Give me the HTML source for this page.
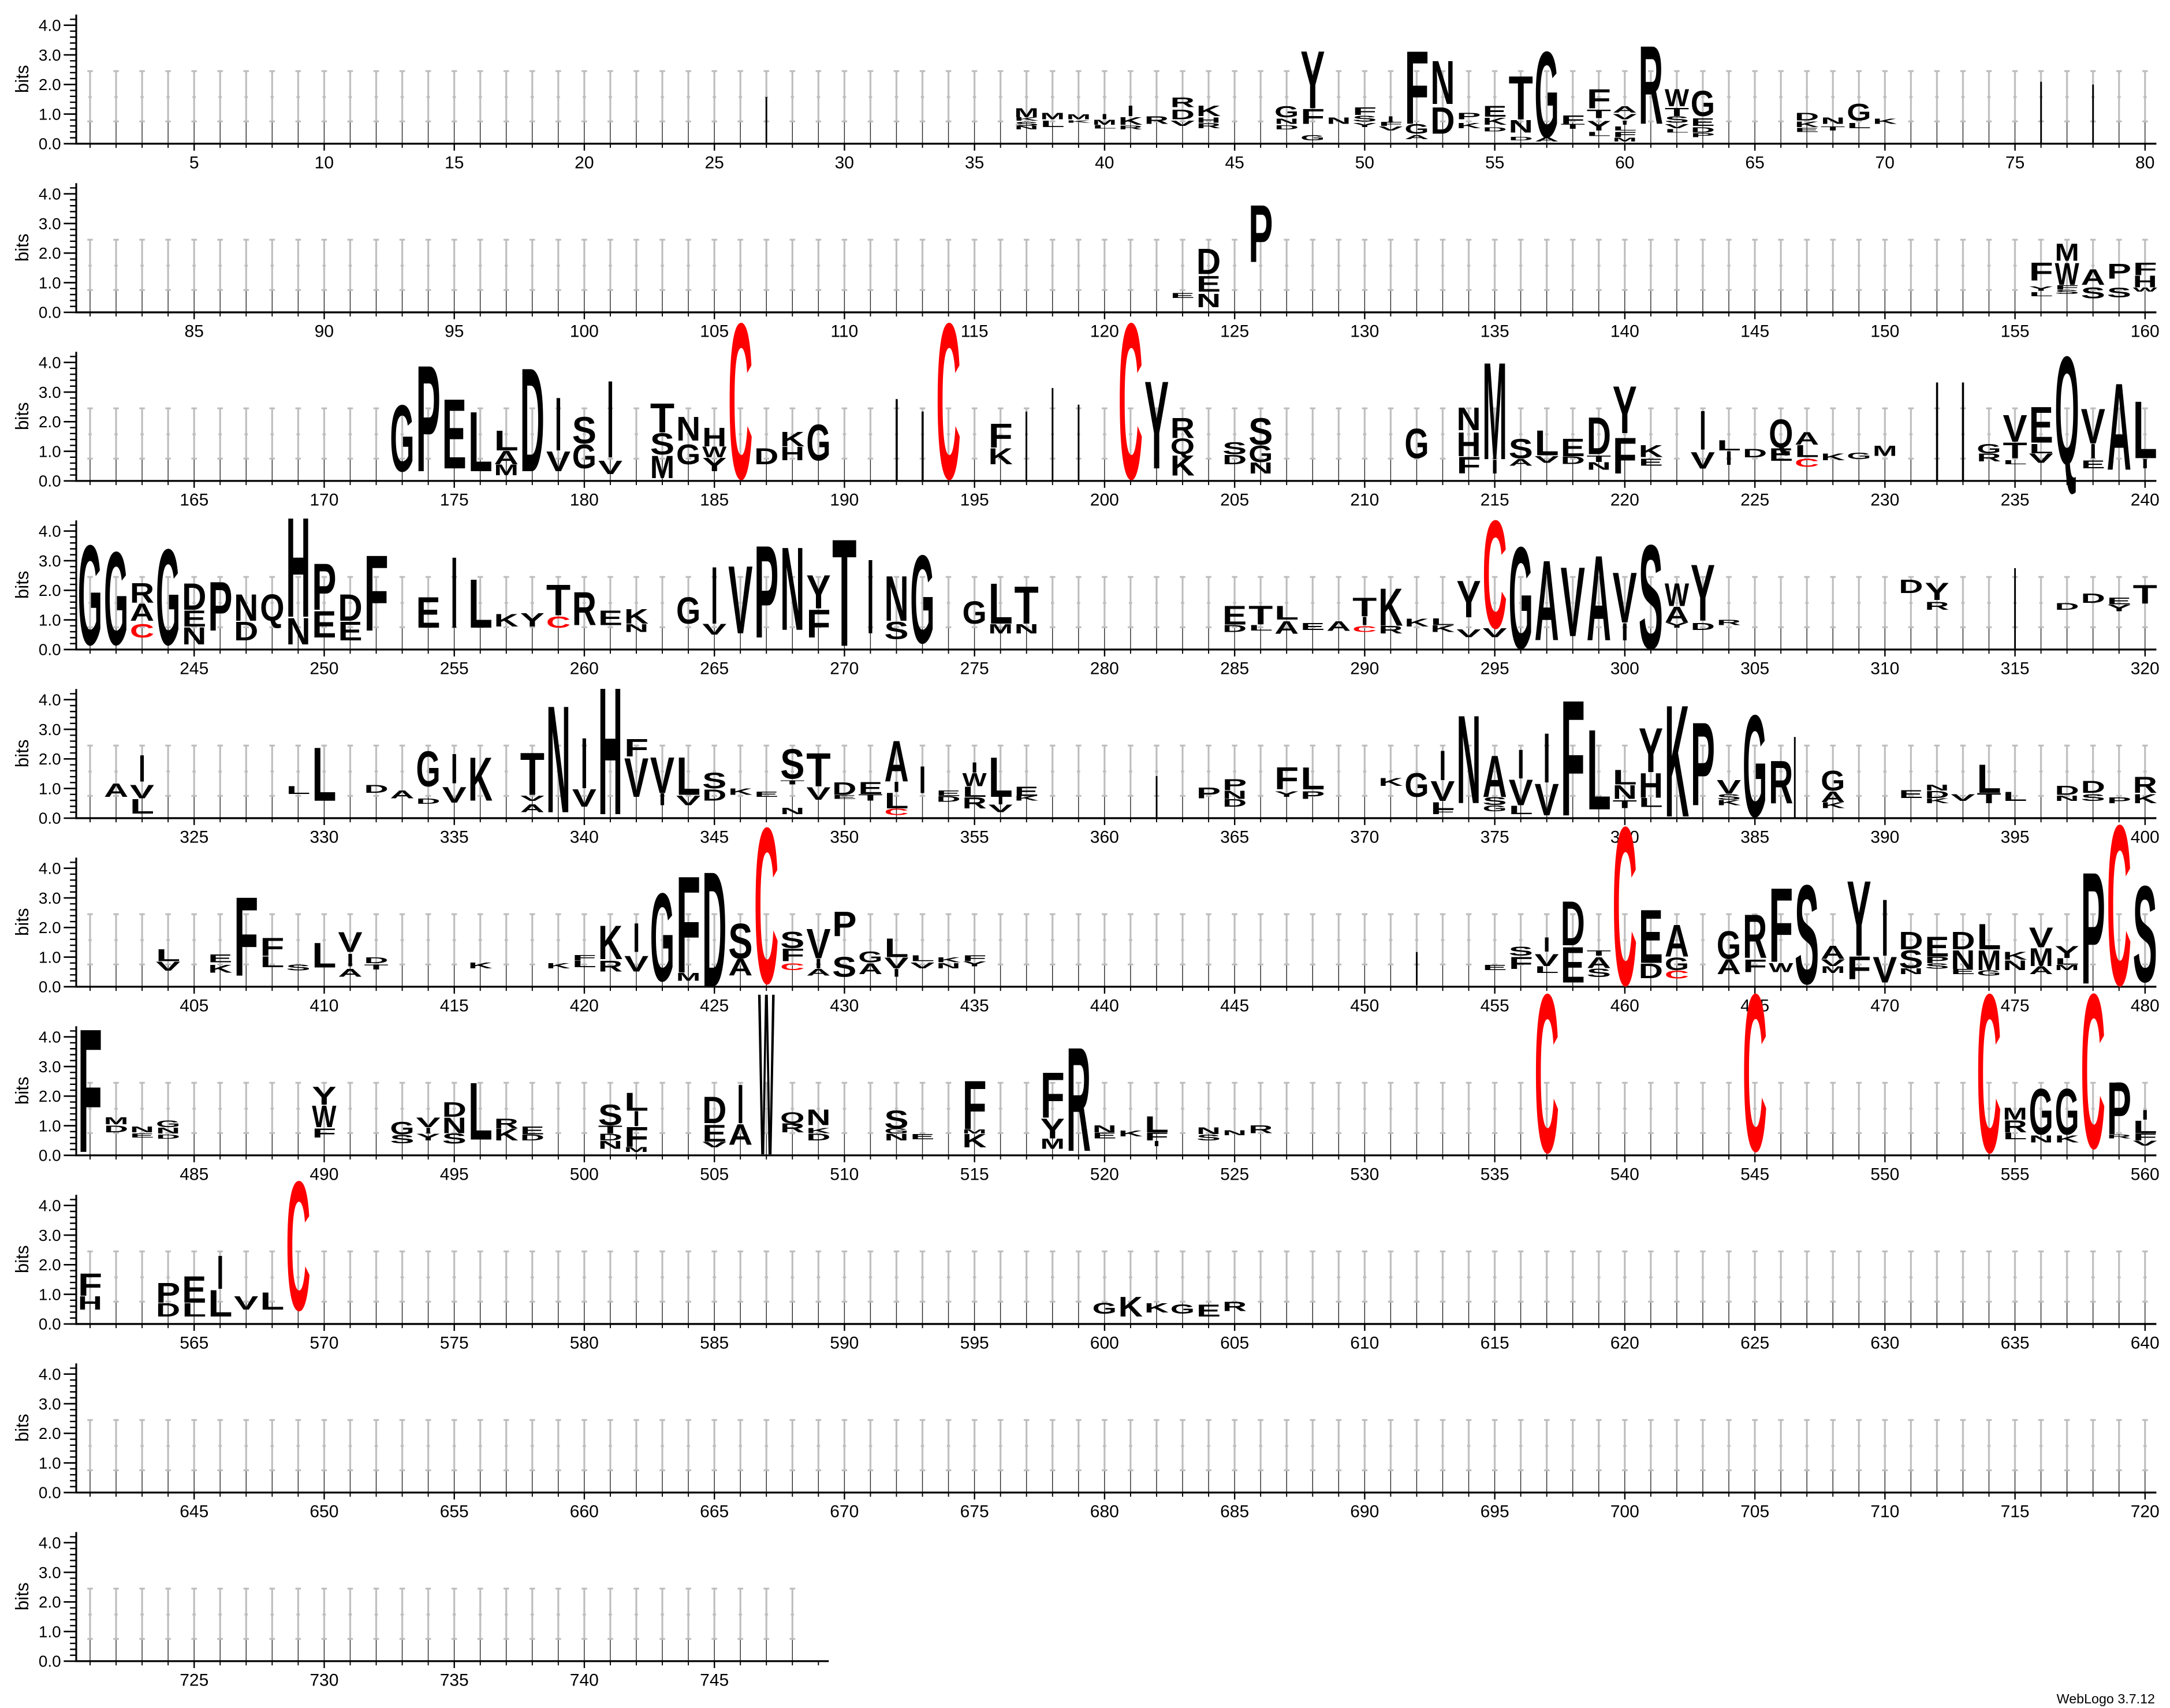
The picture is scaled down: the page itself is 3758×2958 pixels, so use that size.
<!DOCTYPE html>
<html><head><meta charset="utf-8"><style>
html,body{margin:0;padding:0;background:#fff}
svg{display:block}
svg text{font-family:"Liberation Sans",Arial,sans-serif}
.l{font-weight:bold;fill:#000}
.r{font-weight:bold;fill:#f00}
.n{font-weight:normal;fill:#000}
</style></head><body>
<svg xmlns="http://www.w3.org/2000/svg" width="3758" height="2958" viewBox="0 0 1565.83 1232.5" preserveAspectRatio="none">
<defs>
<pattern id="eb" patternUnits="userSpaceOnUse" x="55.6" y="-17.97" width="18.77" height="121.67">
<line x1="9.385" y1="121.67" x2="9.385" y2="105.6" stroke="#000" stroke-width="0.5"/>
<path d="M9.385 105.6V69.3M7.4 105.6H11.4M7.4 69.3H11.4M8.2 88H10.6" stroke="#bdbdbd" stroke-width="1.3" fill="none"/>
</pattern>
<g id="ax">
<line x1="55" y1="10.5" x2="55" y2="104.4" stroke="#000" stroke-width="1.3"/>
<path d="M46 103.7H55M46 82.33H55M46 60.96H55M46 39.59H55M46 18.22H55" stroke="#000" stroke-width="1.1"/>
<line x1="52.75" y1="104.2" x2="52.75" y2="13" stroke="#000" stroke-width="4.5" stroke-dasharray="1 3.274"/>
<text class="n" x="44" y="107.8" font-size="11.6" text-anchor="end">0.0</text>
<text class="n" x="44" y="86.4" font-size="11.6" text-anchor="end">1.0</text>
<text class="n" x="44" y="65.1" font-size="11.6" text-anchor="end">2.0</text>
<text class="n" x="44" y="43.7" font-size="11.6" text-anchor="end">3.0</text>
<text class="n" x="44" y="22.3" font-size="11.6" text-anchor="end">4.0</text>
<text class="n" transform="translate(20.5,57) rotate(-90)" font-size="13" text-anchor="middle">bits</text>
</g>
<g id="xt">
<line x1="55" y1="103.7" x2="1556" y2="103.7" stroke="#000" stroke-width="1.4"/>
<line x1="64.6" y1="105.2" x2="1556" y2="105.2" stroke="#000" stroke-width="3" stroke-dasharray="0.8 17.97"/>
<line x1="139.6" y1="106.2" x2="1556" y2="106.2" stroke="#000" stroke-width="5" stroke-dasharray="1 92.85"/>
</g>
</defs>

<rect x="55.6" y="3.7" width="1501.6" height="100" fill="url(#eb)"/>
<rect x="55.6" y="125.37" width="1501.6" height="100" fill="url(#eb)"/>
<rect x="55.6" y="247.03" width="1501.6" height="100" fill="url(#eb)"/>
<rect x="55.6" y="368.7" width="1501.6" height="100" fill="url(#eb)"/>
<rect x="55.6" y="490.37" width="1501.6" height="100" fill="url(#eb)"/>
<rect x="55.6" y="612.03" width="1501.6" height="100" fill="url(#eb)"/>
<rect x="55.6" y="733.7" width="1501.6" height="100" fill="url(#eb)"/>
<rect x="55.6" y="855.37" width="1501.6" height="100" fill="url(#eb)"/>
<rect x="55.6" y="977.03" width="1501.6" height="100" fill="url(#eb)"/>
<rect x="55.6" y="1098.7" width="525.6" height="100" fill="url(#eb)"/>

<use href="#ax"/><use href="#xt"/>
<use href="#ax" y="121.67"/><use href="#xt" y="121.67"/>
<use href="#ax" y="243.33"/><use href="#xt" y="243.33"/>
<use href="#ax" y="365"/><use href="#xt" y="365"/>
<use href="#ax" y="486.67"/><use href="#xt" y="486.67"/>
<use href="#ax" y="608.33"/><use href="#xt" y="608.33"/>
<use href="#ax" y="730"/><use href="#xt" y="730"/>
<use href="#ax" y="851.67"/><use href="#xt" y="851.67"/>
<use href="#ax" y="973.33"/><use href="#xt" y="973.33"/>
<use href="#ax" y="1095"/>
<line x1="55" y1="1198.7" x2="598" y2="1198.7" stroke="#000" stroke-width="1.4"/>
<line x1="64.6" y1="1200.2" x2="592" y2="1200.2" stroke="#000" stroke-width="3" stroke-dasharray="0.8 17.97"/>
<line x1="139.6" y1="1201.2" x2="592" y2="1201.2" stroke="#000" stroke-width="5" stroke-dasharray="1 92.85"/>

<g class="n" font-size="12.5" text-anchor="middle" style="font-weight:normal">
<g transform="translate(0,121.5)"><text x="140.1">5</text><text x="233.9">10</text><text x="327.8">15</text><text x="421.6">20</text><text x="515.5">25</text><text x="609.3">30</text><text x="703.2">35</text><text x="797">40</text><text x="890.9">45</text><text x="984.7">50</text><text x="1078.6">55</text><text x="1172.4">60</text><text x="1266.3">65</text><text x="1360.1">70</text><text x="1454">75</text><text x="1547.8">80</text></g>
<g transform="translate(0,243.17)"><text x="140.1">85</text><text x="233.9">90</text><text x="327.8">95</text><text x="421.6">100</text><text x="515.5">105</text><text x="609.3">110</text><text x="703.2">115</text><text x="797">120</text><text x="890.9">125</text><text x="984.7">130</text><text x="1078.6">135</text><text x="1172.4">140</text><text x="1266.3">145</text><text x="1360.1">150</text><text x="1454">155</text><text x="1547.8">160</text></g>
<g transform="translate(0,364.83)"><text x="140.1">165</text><text x="233.9">170</text><text x="327.8">175</text><text x="421.6">180</text><text x="515.5">185</text><text x="609.3">190</text><text x="703.2">195</text><text x="797">200</text><text x="890.9">205</text><text x="984.7">210</text><text x="1078.6">215</text><text x="1172.4">220</text><text x="1266.3">225</text><text x="1360.1">230</text><text x="1454">235</text><text x="1547.8">240</text></g>
<g transform="translate(0,486.5)"><text x="140.1">245</text><text x="233.9">250</text><text x="327.8">255</text><text x="421.6">260</text><text x="515.5">265</text><text x="609.3">270</text><text x="703.2">275</text><text x="797">280</text><text x="890.9">285</text><text x="984.7">290</text><text x="1078.6">295</text><text x="1172.4">300</text><text x="1266.3">305</text><text x="1360.1">310</text><text x="1454">315</text><text x="1547.8">320</text></g>
<g transform="translate(0,608.17)"><text x="140.1">325</text><text x="233.9">330</text><text x="327.8">335</text><text x="421.6">340</text><text x="515.5">345</text><text x="609.3">350</text><text x="703.2">355</text><text x="797">360</text><text x="890.9">365</text><text x="984.7">370</text><text x="1078.6">375</text><text x="1172.4">380</text><text x="1266.3">385</text><text x="1360.1">390</text><text x="1454">395</text><text x="1547.8">400</text></g>
<g transform="translate(0,729.83)"><text x="140.1">405</text><text x="233.9">410</text><text x="327.8">415</text><text x="421.6">420</text><text x="515.5">425</text><text x="609.3">430</text><text x="703.2">435</text><text x="797">440</text><text x="890.9">445</text><text x="984.7">450</text><text x="1078.6">455</text><text x="1172.4">460</text><text x="1266.3">465</text><text x="1360.1">470</text><text x="1454">475</text><text x="1547.8">480</text></g>
<g transform="translate(0,851.5)"><text x="140.1">485</text><text x="233.9">490</text><text x="327.8">495</text><text x="421.6">500</text><text x="515.5">505</text><text x="609.3">510</text><text x="703.2">515</text><text x="797">520</text><text x="890.9">525</text><text x="984.7">530</text><text x="1078.6">535</text><text x="1172.4">540</text><text x="1266.3">545</text><text x="1360.1">550</text><text x="1454">555</text><text x="1547.8">560</text></g>
<g transform="translate(0,973.17)"><text x="140.1">565</text><text x="233.9">570</text><text x="327.8">575</text><text x="421.6">580</text><text x="515.5">585</text><text x="609.3">590</text><text x="703.2">595</text><text x="797">600</text><text x="890.9">605</text><text x="984.7">610</text><text x="1078.6">615</text><text x="1172.4">620</text><text x="1266.3">625</text><text x="1360.1">630</text><text x="1454">635</text><text x="1547.8">640</text></g>
<g transform="translate(0,1094.83)"><text x="140.1">645</text><text x="233.9">650</text><text x="327.8">655</text><text x="421.6">660</text><text x="515.5">665</text><text x="609.3">670</text><text x="703.2">675</text><text x="797">680</text><text x="890.9">685</text><text x="984.7">690</text><text x="1078.6">695</text><text x="1172.4">700</text><text x="1266.3">705</text><text x="1360.1">710</text><text x="1454">715</text><text x="1547.8">720</text></g>
<g transform="translate(0,1216.5)"><text x="140.1">725</text><text x="233.9">730</text><text x="327.8">735</text><text x="421.6">740</text><text x="515.5">745</text></g>
</g>

<g fill="#000">
<rect x="552.4" y="70" width="1.2" height="34"/>
<rect x="1472.2" y="59" width="1.2" height="45"/>
<rect x="1509.7" y="61" width="1.2" height="43"/>
<rect x="646.3" y="288" width="1.5" height="59"/>
<rect x="665" y="297" width="1.5" height="50"/>
<rect x="740" y="297" width="1.2" height="50"/>
<rect x="758.9" y="280" width="1.2" height="67"/>
<rect x="777.7" y="292" width="1.2" height="55"/>
<rect x="1397" y="276" width="1.5" height="71"/>
<rect x="1415.7" y="276" width="1.5" height="71"/>
<rect x="1453.4" y="410" width="1.2" height="58"/>
<rect x="834" y="560" width="1.2" height="30"/>
<rect x="1294.5" y="531.8" width="1.2" height="58"/>
<rect x="1021.7" y="687" width="1.2" height="24"/>
</g>

<!-- ROW 1 -->
<text class="l" x="731.9" y="84.5" font-size="9.2" textLength="17.6" lengthAdjust="spacingAndGlyphs">M</text>
<text class="l" x="731.9" y="87" font-size="3.4" textLength="17.6" lengthAdjust="spacingAndGlyphs">K</text>
<text class="l" x="731.9" y="90.9" font-size="4.4" textLength="17.6" lengthAdjust="spacingAndGlyphs">S</text>
<text class="l" x="731.9" y="93.3" font-size="3.3" textLength="17.6" lengthAdjust="spacingAndGlyphs">N</text>
<text class="l" x="750.7" y="86.1" font-size="6.6" textLength="17.6" lengthAdjust="spacingAndGlyphs">M</text>
<text class="l" x="750.7" y="91.7" font-size="6.6" textLength="17.6" lengthAdjust="spacingAndGlyphs">L</text>
<text class="l" x="769.5" y="86.1" font-size="4.8" textLength="17.6" lengthAdjust="spacingAndGlyphs">M</text>
<text class="l" x="769.5" y="88.5" font-size="2.2" textLength="17.6" lengthAdjust="spacingAndGlyphs">K</text>
<text class="l" x="794.5" y="86.1" font-size="5.5" textLength="5" lengthAdjust="spacingAndGlyphs">I</text>
<text class="l" x="788.2" y="90.1" font-size="4.8" textLength="17.6" lengthAdjust="spacingAndGlyphs">M</text>
<text class="l" x="788.2" y="92.8" font-size="3.3" textLength="17.6" lengthAdjust="spacingAndGlyphs">L</text>
<text class="l" x="813.3" y="83.7" font-size="10.8" textLength="5" lengthAdjust="spacingAndGlyphs">I</text>
<text class="l" x="807" y="90.1" font-size="7.7" textLength="17.6" lengthAdjust="spacingAndGlyphs">K</text>
<text class="l" x="807" y="93.3" font-size="4" textLength="17.6" lengthAdjust="spacingAndGlyphs">R</text>
<text class="l" x="825.8" y="89.3" font-size="7.7" textLength="17.6" lengthAdjust="spacingAndGlyphs">R</text>
<text class="l" x="844.5" y="77.4" font-size="9.9" textLength="17.6" lengthAdjust="spacingAndGlyphs">R</text>
<text class="l" x="844.5" y="86.1" font-size="9.9" textLength="17.6" lengthAdjust="spacingAndGlyphs">D</text>
<text class="l" x="844.5" y="90.9" font-size="5.5" textLength="17.6" lengthAdjust="spacingAndGlyphs">V</text>
<text class="l" x="863.3" y="83.7" font-size="10.8" textLength="17.6" lengthAdjust="spacingAndGlyphs">K</text>
<text class="l" x="863.3" y="88.5" font-size="5.5" textLength="17.6" lengthAdjust="spacingAndGlyphs">H</text>
<text class="l" x="863.3" y="92.5" font-size="5.1" textLength="17.6" lengthAdjust="spacingAndGlyphs">R</text>
<text class="l" x="919.6" y="84.5" font-size="11.4" textLength="17.6" lengthAdjust="spacingAndGlyphs">G</text>
<text class="l" x="919.6" y="89.3" font-size="5.5" textLength="17.6" lengthAdjust="spacingAndGlyphs">N</text>
<text class="l" x="919.6" y="93.3" font-size="4.4" textLength="17.6" lengthAdjust="spacingAndGlyphs">D</text>
<text class="l" x="938.4" y="78.1" font-size="59.4" textLength="17.6" lengthAdjust="spacingAndGlyphs">Y</text>
<text class="l" x="938.4" y="89.3" font-size="15.4" textLength="17.6" lengthAdjust="spacingAndGlyphs">F</text>
<text class="l" x="938.4" y="101.3" font-size="5.5" textLength="17.6" lengthAdjust="spacingAndGlyphs">G</text>
<text class="l" x="957.2" y="89.3" font-size="6.6" textLength="17.6" lengthAdjust="spacingAndGlyphs">N</text>
<text class="l" x="975.9" y="82.9" font-size="7.5" textLength="17.6" lengthAdjust="spacingAndGlyphs">F</text>
<text class="l" x="975.9" y="87.7" font-size="6" textLength="17.6" lengthAdjust="spacingAndGlyphs">S</text>
<text class="l" x="975.9" y="91.7" font-size="4.4" textLength="17.6" lengthAdjust="spacingAndGlyphs">Y</text>
<text class="l" x="1001" y="88.5" font-size="6.6" textLength="5" lengthAdjust="spacingAndGlyphs">I</text>
<text class="l" x="994.7" y="90.9" font-size="4.4" textLength="17.6" lengthAdjust="spacingAndGlyphs">F</text>
<text class="l" x="994.7" y="94.1" font-size="4.4" textLength="17.6" lengthAdjust="spacingAndGlyphs">V</text>
<text class="l" x="1013.5" y="89.3" font-size="75.5" textLength="17.6" lengthAdjust="spacingAndGlyphs">F</text>
<text class="l" x="1013.5" y="96.5" font-size="9.9" textLength="17.6" lengthAdjust="spacingAndGlyphs">G</text>
<text class="l" x="1013.5" y="100.5" font-size="4.4" textLength="17.6" lengthAdjust="spacingAndGlyphs">A</text>
<text class="l" x="1032.2" y="75" font-size="44.9" textLength="17.6" lengthAdjust="spacingAndGlyphs">N</text>
<text class="l" x="1032.2" y="96.5" font-size="27.4" textLength="17.6" lengthAdjust="spacingAndGlyphs">D</text>
<text class="l" x="1051" y="86.1" font-size="6.6" textLength="17.6" lengthAdjust="spacingAndGlyphs">P</text>
<text class="l" x="1051" y="92.5" font-size="5.5" textLength="17.6" lengthAdjust="spacingAndGlyphs">K</text>
<text class="l" x="1069.8" y="84.2" font-size="11" textLength="17.6" lengthAdjust="spacingAndGlyphs">E</text>
<text class="l" x="1069.8" y="90.1" font-size="7.3" textLength="17.6" lengthAdjust="spacingAndGlyphs">K</text>
<text class="l" x="1069.8" y="94.9" font-size="4.4" textLength="17.6" lengthAdjust="spacingAndGlyphs">D</text>
<text class="l" x="1088.6" y="86.1" font-size="44.9" textLength="17.6" lengthAdjust="spacingAndGlyphs">T</text>
<text class="l" x="1088.6" y="95.7" font-size="13.2" textLength="17.6" lengthAdjust="spacingAndGlyphs">N</text>
<text class="l" x="1088.6" y="101.3" font-size="3.3" textLength="17.6" lengthAdjust="spacingAndGlyphs">D</text>
<text class="l" x="1107.3" y="98.9" font-size="88.6" textLength="17.6" lengthAdjust="spacingAndGlyphs">G</text>
<text class="l" x="1107.3" y="102.1" font-size="4.4" textLength="17.6" lengthAdjust="spacingAndGlyphs">A</text>
<text class="l" x="1126.1" y="89.3" font-size="8.8" textLength="17.6" lengthAdjust="spacingAndGlyphs">F</text>
<text class="l" x="1126.1" y="93" font-size="5.1" textLength="17.6" lengthAdjust="spacingAndGlyphs">T</text>
<text class="l" x="1144.9" y="78.1" font-size="19.6" textLength="17.6" lengthAdjust="spacingAndGlyphs">F</text>
<text class="l" x="1144.9" y="85.3" font-size="8.8" textLength="17.6" lengthAdjust="spacingAndGlyphs">T</text>
<text class="l" x="1144.9" y="94.1" font-size="9.9" textLength="17.6" lengthAdjust="spacingAndGlyphs">Y</text>
<text class="l" x="1144.9" y="98.1" font-size="4.4" textLength="17.6" lengthAdjust="spacingAndGlyphs">L</text>
<text class="l" x="1163.6" y="81.3" font-size="6.4" textLength="17.6" lengthAdjust="spacingAndGlyphs">A</text>
<text class="l" x="1163.6" y="86.1" font-size="5.5" textLength="17.6" lengthAdjust="spacingAndGlyphs">V</text>
<text class="l" x="1169.9" y="90.1" font-size="4.4" textLength="5" lengthAdjust="spacingAndGlyphs">I</text>
<text class="l" x="1163.6" y="94.1" font-size="4.4" textLength="17.6" lengthAdjust="spacingAndGlyphs">L</text>
<text class="l" x="1163.6" y="98.9" font-size="5.5" textLength="17.6" lengthAdjust="spacingAndGlyphs">F</text>
<text class="l" x="1163.6" y="102.1" font-size="4" textLength="17.6" lengthAdjust="spacingAndGlyphs">M</text>
<text class="l" x="1182.4" y="89.3" font-size="80.9" textLength="17.6" lengthAdjust="spacingAndGlyphs">R</text>
<text class="l" x="1201.2" y="76.6" font-size="17.6" textLength="17.6" lengthAdjust="spacingAndGlyphs">W</text>
<text class="l" x="1201.2" y="83.7" font-size="8.6" textLength="17.6" lengthAdjust="spacingAndGlyphs">T</text>
<text class="l" x="1201.2" y="88.5" font-size="6.6" textLength="17.6" lengthAdjust="spacingAndGlyphs">S</text>
<text class="l" x="1201.2" y="92.5" font-size="4.4" textLength="17.6" lengthAdjust="spacingAndGlyphs">V</text>
<text class="l" x="1201.2" y="95.7" font-size="3.3" textLength="17.6" lengthAdjust="spacingAndGlyphs">L</text>
<text class="l" x="1219.9" y="83.7" font-size="26.2" textLength="17.6" lengthAdjust="spacingAndGlyphs">G</text>
<text class="l" x="1219.9" y="90.9" font-size="7.7" textLength="17.6" lengthAdjust="spacingAndGlyphs">E</text>
<text class="l" x="1219.9" y="95.7" font-size="5.5" textLength="17.6" lengthAdjust="spacingAndGlyphs">D</text>
<text class="l" x="1219.9" y="98.9" font-size="4.4" textLength="17.6" lengthAdjust="spacingAndGlyphs">P</text>
<text class="l" x="1295" y="86.9" font-size="7.7" textLength="17.6" lengthAdjust="spacingAndGlyphs">D</text>
<text class="l" x="1295" y="91.7" font-size="5.9" textLength="17.6" lengthAdjust="spacingAndGlyphs">K</text>
<text class="l" x="1295" y="95.2" font-size="4.1" textLength="17.6" lengthAdjust="spacingAndGlyphs">E</text>
<text class="l" x="1313.8" y="89.3" font-size="6.6" textLength="17.6" lengthAdjust="spacingAndGlyphs">N</text>
<text class="l" x="1313.8" y="94.1" font-size="4.4" textLength="17.6" lengthAdjust="spacingAndGlyphs">T</text>
<text class="l" x="1332.6" y="86.9" font-size="17.4" textLength="17.6" lengthAdjust="spacingAndGlyphs">G</text>
<text class="l" x="1332.6" y="92.5" font-size="5.5" textLength="17.6" lengthAdjust="spacingAndGlyphs">L</text>
<text class="l" x="1351.3" y="89.3" font-size="5.5" textLength="17.6" lengthAdjust="spacingAndGlyphs">K</text>

<!-- ROW 2 -->
<text class="l" x="844.5" y="215" font-size="4.8" textLength="17.6" lengthAdjust="spacingAndGlyphs">E</text>
<text class="l" x="863.3" y="197.8" font-size="26.3" textLength="17.6" lengthAdjust="spacingAndGlyphs">D</text>
<text class="l" x="863.3" y="210.5" font-size="16.3" textLength="17.6" lengthAdjust="spacingAndGlyphs">E</text>
<text class="l" x="863.3" y="221.7" font-size="14" textLength="17.6" lengthAdjust="spacingAndGlyphs">N</text>
<text class="l" x="900.9" y="189" font-size="59.1" textLength="17.6" lengthAdjust="spacingAndGlyphs">P</text>
<text class="l" x="1464" y="202.6" font-size="18.7" textLength="17.6" lengthAdjust="spacingAndGlyphs">F</text>
<text class="l" x="1464" y="209.8" font-size="4.5" textLength="17.6" lengthAdjust="spacingAndGlyphs">Y</text>
<text class="l" x="1464" y="213.7" font-size="4.4" textLength="17.6" lengthAdjust="spacingAndGlyphs">L</text>
<text class="l" x="1482.7" y="188.2" font-size="17.6" textLength="17.6" lengthAdjust="spacingAndGlyphs">M</text>
<text class="l" x="1482.7" y="205.7" font-size="22.9" textLength="17.6" lengthAdjust="spacingAndGlyphs">W</text>
<text class="l" x="1482.7" y="209" font-size="4.5" textLength="17.6" lengthAdjust="spacingAndGlyphs">F</text>
<text class="l" x="1482.7" y="212" font-size="4.1" textLength="17.6" lengthAdjust="spacingAndGlyphs">S</text>
<text class="l" x="1501.5" y="205.7" font-size="16.3" textLength="17.6" lengthAdjust="spacingAndGlyphs">A</text>
<text class="l" x="1501.5" y="215.3" font-size="11" textLength="17.6" lengthAdjust="spacingAndGlyphs">S</text>
<text class="l" x="1520.3" y="201" font-size="15.4" textLength="17.6" lengthAdjust="spacingAndGlyphs">P</text>
<text class="l" x="1520.3" y="214.5" font-size="9.9" textLength="17.6" lengthAdjust="spacingAndGlyphs">S</text>
<text class="l" x="1539" y="198.6" font-size="13.2" textLength="17.6" lengthAdjust="spacingAndGlyphs">F</text>
<text class="l" x="1539" y="207.3" font-size="11.9" textLength="17.6" lengthAdjust="spacingAndGlyphs">H</text>
<text class="l" x="1539" y="210.5" font-size="4.4" textLength="17.6" lengthAdjust="spacingAndGlyphs">W</text>

<!-- ROW 3 -->
<text class="l" x="281.4" y="340" font-size="68.6" textLength="17.6" lengthAdjust="spacingAndGlyphs">G</text>
<text class="l" x="300.2" y="340" font-size="109.8" textLength="17.6" lengthAdjust="spacingAndGlyphs">P</text>
<text class="l" x="319" y="338" font-size="72" textLength="17.6" lengthAdjust="spacingAndGlyphs">E</text>
<text class="l" x="337.8" y="340" font-size="61.7" textLength="17.6" lengthAdjust="spacingAndGlyphs">L</text>
<text class="l" x="356.5" y="325" font-size="20.6" textLength="17.6" lengthAdjust="spacingAndGlyphs">L</text>
<text class="l" x="356.5" y="335" font-size="13.7" textLength="17.6" lengthAdjust="spacingAndGlyphs">A</text>
<text class="l" x="356.5" y="343" font-size="11" textLength="17.6" lengthAdjust="spacingAndGlyphs">M</text>
<text class="l" x="375.3" y="340" font-size="107" textLength="17.6" lengthAdjust="spacingAndGlyphs">D</text>
<text class="l" x="400.4" y="325" font-size="54.9" textLength="5" lengthAdjust="spacingAndGlyphs">I</text>
<text class="l" x="394.1" y="340" font-size="20.6" textLength="17.6" lengthAdjust="spacingAndGlyphs">V</text>
<text class="l" x="412.8" y="320" font-size="27.4" textLength="17.6" lengthAdjust="spacingAndGlyphs">S</text>
<text class="l" x="412.8" y="338" font-size="24.7" textLength="17.6" lengthAdjust="spacingAndGlyphs">G</text>
<text class="l" x="437.9" y="330" font-size="79.6" textLength="5" lengthAdjust="spacingAndGlyphs">I</text>
<text class="l" x="431.6" y="342" font-size="13.7" textLength="17.6" lengthAdjust="spacingAndGlyphs">V</text>
<text class="l" x="469.1" y="312" font-size="30.2" textLength="17.6" lengthAdjust="spacingAndGlyphs">T</text>
<text class="l" x="469.1" y="328" font-size="22" textLength="17.6" lengthAdjust="spacingAndGlyphs">S</text>
<text class="l" x="469.1" y="345" font-size="23.3" textLength="17.6" lengthAdjust="spacingAndGlyphs">M</text>
<text class="l" x="487.9" y="318" font-size="24.7" textLength="17.6" lengthAdjust="spacingAndGlyphs">N</text>
<text class="l" x="487.9" y="335" font-size="20.6" textLength="17.6" lengthAdjust="spacingAndGlyphs">G</text>
<text class="l" x="506.7" y="322" font-size="19.2" textLength="17.6" lengthAdjust="spacingAndGlyphs">H</text>
<text class="l" x="506.7" y="330" font-size="11" textLength="17.6" lengthAdjust="spacingAndGlyphs">W</text>
<text class="l" x="506.7" y="340" font-size="13.7" textLength="17.6" lengthAdjust="spacingAndGlyphs">Y</text>
<text class="r" x="525.5" y="345" font-size="160.5" textLength="17.6" lengthAdjust="spacingAndGlyphs">C</text>
<text class="l" x="544.2" y="335" font-size="16.5" textLength="17.6" lengthAdjust="spacingAndGlyphs">D</text>
<text class="l" x="563" y="322" font-size="15.1" textLength="17.6" lengthAdjust="spacingAndGlyphs">K</text>
<text class="l" x="563" y="332" font-size="13.7" textLength="17.6" lengthAdjust="spacingAndGlyphs">H</text>
<text class="l" x="581.8" y="332" font-size="37" textLength="17.6" lengthAdjust="spacingAndGlyphs">G</text>
<text class="r" x="675.6" y="345" font-size="160.5" textLength="17.6" lengthAdjust="spacingAndGlyphs">C</text>
<text class="l" x="713.2" y="323" font-size="24.7" textLength="17.6" lengthAdjust="spacingAndGlyphs">F</text>
<text class="l" x="713.2" y="335" font-size="16.5" textLength="17.6" lengthAdjust="spacingAndGlyphs">K</text>
<text class="r" x="807" y="345" font-size="160.5" textLength="17.6" lengthAdjust="spacingAndGlyphs">C</text>
<text class="l" x="825.8" y="338" font-size="90.6" textLength="17.6" lengthAdjust="spacingAndGlyphs">Y</text>
<text class="l" x="844.5" y="316" font-size="21" textLength="17.6" lengthAdjust="spacingAndGlyphs">R</text>
<text class="l" x="844.5" y="327.8" font-size="16.2" textLength="17.6" lengthAdjust="spacingAndGlyphs">Q</text>
<text class="l" x="844.5" y="343.1" font-size="21" textLength="17.6" lengthAdjust="spacingAndGlyphs">K</text>
<text class="l" x="882.1" y="327.8" font-size="12.3" textLength="17.6" lengthAdjust="spacingAndGlyphs">S</text>
<text class="l" x="882.1" y="335" font-size="9.6" textLength="17.6" lengthAdjust="spacingAndGlyphs">D</text>
<text class="l" x="900.9" y="320.8" font-size="27.6" textLength="17.6" lengthAdjust="spacingAndGlyphs">S</text>
<text class="l" x="900.9" y="333.3" font-size="17.1" textLength="17.6" lengthAdjust="spacingAndGlyphs">G</text>
<text class="l" x="900.9" y="341.7" font-size="11.5" textLength="17.6" lengthAdjust="spacingAndGlyphs">N</text>
<text class="l" x="1013.5" y="330.6" font-size="30.6" textLength="17.6" lengthAdjust="spacingAndGlyphs">G</text>
<text class="l" x="1051" y="310.4" font-size="23.7" textLength="17.6" lengthAdjust="spacingAndGlyphs">N</text>
<text class="l" x="1051" y="329.2" font-size="24.8" textLength="17.6" lengthAdjust="spacingAndGlyphs">H</text>
<text class="l" x="1051" y="341.7" font-size="17.1" textLength="17.6" lengthAdjust="spacingAndGlyphs">F</text>
<text class="l" x="1069.8" y="331.3" font-size="100.2" textLength="17.6" lengthAdjust="spacingAndGlyphs">M</text>
<text class="l" x="1076.1" y="341.7" font-size="14.3" textLength="5" lengthAdjust="spacingAndGlyphs">I</text>
<text class="l" x="1088.6" y="330.6" font-size="20" textLength="17.6" lengthAdjust="spacingAndGlyphs">S</text>
<text class="l" x="1088.6" y="336" font-size="6.9" textLength="17.6" lengthAdjust="spacingAndGlyphs">A</text>
<text class="l" x="1107.3" y="328.5" font-size="25.8" textLength="17.6" lengthAdjust="spacingAndGlyphs">L</text>
<text class="l" x="1107.3" y="334" font-size="6.9" textLength="17.6" lengthAdjust="spacingAndGlyphs">V</text>
<text class="l" x="1126.1" y="329.2" font-size="18.1" textLength="17.6" lengthAdjust="spacingAndGlyphs">E</text>
<text class="l" x="1126.1" y="334.8" font-size="7.7" textLength="17.6" lengthAdjust="spacingAndGlyphs">D</text>
<text class="l" x="1144.9" y="327.8" font-size="38.1" textLength="17.6" lengthAdjust="spacingAndGlyphs">D</text>
<text class="l" x="1144.9" y="333.3" font-size="6.6" textLength="17.6" lengthAdjust="spacingAndGlyphs">T</text>
<text class="l" x="1144.9" y="339" font-size="7.8" textLength="17.6" lengthAdjust="spacingAndGlyphs">N</text>
<text class="l" x="1163.6" y="312.5" font-size="48.6" textLength="17.6" lengthAdjust="spacingAndGlyphs">Y</text>
<text class="l" x="1163.6" y="341.7" font-size="37.2" textLength="17.6" lengthAdjust="spacingAndGlyphs">F</text>
<text class="l" x="1182.4" y="329.9" font-size="12.5" textLength="17.6" lengthAdjust="spacingAndGlyphs">K</text>
<text class="l" x="1182.4" y="336" font-size="7.4" textLength="17.6" lengthAdjust="spacingAndGlyphs">E</text>
<text class="l" x="1226.2" y="324.3" font-size="40.1" textLength="5" lengthAdjust="spacingAndGlyphs">I</text>
<text class="l" x="1219.9" y="338.2" font-size="17.1" textLength="17.6" lengthAdjust="spacingAndGlyphs">V</text>
<text class="l" x="1238.7" y="325" font-size="10.4" textLength="17.6" lengthAdjust="spacingAndGlyphs">L</text>
<text class="l" x="1245" y="335.4" font-size="14.3" textLength="5" lengthAdjust="spacingAndGlyphs">I</text>
<text class="l" x="1257.5" y="330" font-size="8.9" textLength="17.6" lengthAdjust="spacingAndGlyphs">D</text>
<text class="l" x="1276.3" y="322.9" font-size="29.5" textLength="17.6" lengthAdjust="spacingAndGlyphs">Q</text>
<text class="l" x="1276.3" y="332.6" font-size="13.3" textLength="17.6" lengthAdjust="spacingAndGlyphs">E</text>
<text class="l" x="1295" y="320.8" font-size="13.3" textLength="17.6" lengthAdjust="spacingAndGlyphs">A</text>
<text class="l" x="1295" y="329.9" font-size="12.5" textLength="17.6" lengthAdjust="spacingAndGlyphs">L</text>
<text class="r" x="1295" y="336.8" font-size="8.5" textLength="17.6" lengthAdjust="spacingAndGlyphs">C</text>
<text class="l" x="1313.8" y="332" font-size="6.9" textLength="17.6" lengthAdjust="spacingAndGlyphs">K</text>
<text class="l" x="1332.6" y="331.3" font-size="6.6" textLength="17.6" lengthAdjust="spacingAndGlyphs">G</text>
<text class="l" x="1351.3" y="329" font-size="10.3" textLength="17.6" lengthAdjust="spacingAndGlyphs">M</text>
<text class="l" x="1426.4" y="327" font-size="9.6" textLength="17.6" lengthAdjust="spacingAndGlyphs">G</text>
<text class="l" x="1426.4" y="333" font-size="8.2" textLength="17.6" lengthAdjust="spacingAndGlyphs">R</text>
<text class="l" x="1445.2" y="318.8" font-size="27.7" textLength="17.6" lengthAdjust="spacingAndGlyphs">V</text>
<text class="l" x="1445.2" y="330.6" font-size="16.2" textLength="17.6" lengthAdjust="spacingAndGlyphs">T</text>
<text class="l" x="1445.2" y="335" font-size="4.1" textLength="17.6" lengthAdjust="spacingAndGlyphs">L</text>
<text class="l" x="1464" y="319.4" font-size="37" textLength="17.6" lengthAdjust="spacingAndGlyphs">E</text>
<text class="l" x="1464" y="327" font-size="9.6" textLength="17.6" lengthAdjust="spacingAndGlyphs">L</text>
<text class="l" x="1464" y="334" font-size="9.6" textLength="17.6" lengthAdjust="spacingAndGlyphs">V</text>
<text class="l" x="1482.7" y="334.7" font-size="111.4" textLength="17.6" lengthAdjust="spacingAndGlyphs">Q</text>
<text class="l" x="1501.5" y="320" font-size="35.9" textLength="17.6" lengthAdjust="spacingAndGlyphs">V</text>
<text class="l" x="1507.8" y="330.6" font-size="14.5" textLength="5" lengthAdjust="spacingAndGlyphs">I</text>
<text class="l" x="1501.5" y="338" font-size="8.2" textLength="17.6" lengthAdjust="spacingAndGlyphs">E</text>
<text class="l" x="1520.3" y="338.9" font-size="89.6" textLength="17.6" lengthAdjust="spacingAndGlyphs">A</text>
<text class="l" x="1539" y="330.6" font-size="59.1" textLength="17.6" lengthAdjust="spacingAndGlyphs">L</text>
<text class="l" x="1545.3" y="338" font-size="9.6" textLength="5" lengthAdjust="spacingAndGlyphs">I</text>

<!-- ROW 4 -->
<text class="l" x="56.2" y="465" font-size="102.9" textLength="17.6" lengthAdjust="spacingAndGlyphs">G</text>
<text class="l" x="75" y="465" font-size="96" textLength="17.6" lengthAdjust="spacingAndGlyphs">G</text>
<text class="l" x="93.7" y="435" font-size="20.6" textLength="17.6" lengthAdjust="spacingAndGlyphs">R</text>
<text class="l" x="93.7" y="448" font-size="17.8" textLength="17.6" lengthAdjust="spacingAndGlyphs">A</text>
<text class="r" x="93.7" y="460" font-size="13.7" textLength="17.6" lengthAdjust="spacingAndGlyphs">C</text>
<text class="l" x="112.5" y="465" font-size="98.8" textLength="17.6" lengthAdjust="spacingAndGlyphs">G</text>
<text class="l" x="131.3" y="440" font-size="27.4" textLength="17.6" lengthAdjust="spacingAndGlyphs">D</text>
<text class="l" x="131.3" y="452" font-size="16.5" textLength="17.6" lengthAdjust="spacingAndGlyphs">E</text>
<text class="l" x="131.3" y="465" font-size="17.8" textLength="17.6" lengthAdjust="spacingAndGlyphs">N</text>
<text class="l" x="150.1" y="455" font-size="50.8" textLength="17.6" lengthAdjust="spacingAndGlyphs">P</text>
<text class="l" x="168.8" y="448" font-size="27.4" textLength="17.6" lengthAdjust="spacingAndGlyphs">N</text>
<text class="l" x="168.8" y="462" font-size="19.2" textLength="17.6" lengthAdjust="spacingAndGlyphs">D</text>
<text class="l" x="187.6" y="448" font-size="27.4" textLength="17.6" lengthAdjust="spacingAndGlyphs">Q</text>
<text class="l" x="206.4" y="445" font-size="102.9" textLength="17.6" lengthAdjust="spacingAndGlyphs">H</text>
<text class="l" x="206.4" y="465" font-size="27.4" textLength="17.6" lengthAdjust="spacingAndGlyphs">N</text>
<text class="l" x="225.1" y="440" font-size="48" textLength="17.6" lengthAdjust="spacingAndGlyphs">P</text>
<text class="l" x="225.1" y="460" font-size="27.4" textLength="17.6" lengthAdjust="spacingAndGlyphs">E</text>
<text class="l" x="243.9" y="448" font-size="27.4" textLength="17.6" lengthAdjust="spacingAndGlyphs">D</text>
<text class="l" x="243.9" y="462" font-size="19.2" textLength="17.6" lengthAdjust="spacingAndGlyphs">E</text>
<text class="l" x="262.7" y="455" font-size="78.2" textLength="17.6" lengthAdjust="spacingAndGlyphs">F</text>
<text class="l" x="300.2" y="452.9" font-size="31.6" textLength="17.6" lengthAdjust="spacingAndGlyphs">E</text>
<text class="l" x="325.3" y="453" font-size="73.5" textLength="5" lengthAdjust="spacingAndGlyphs">I</text>
<text class="l" x="337.8" y="453" font-size="50.1" textLength="17.6" lengthAdjust="spacingAndGlyphs">L</text>
<text class="l" x="356.5" y="452" font-size="13" textLength="17.6" lengthAdjust="spacingAndGlyphs">K</text>
<text class="l" x="375.3" y="452" font-size="13.7" textLength="17.6" lengthAdjust="spacingAndGlyphs">Y</text>
<text class="l" x="394.1" y="444" font-size="31.6" textLength="17.6" lengthAdjust="spacingAndGlyphs">T</text>
<text class="r" x="394.1" y="453" font-size="11.7" textLength="17.6" lengthAdjust="spacingAndGlyphs">C</text>
<text class="l" x="412.8" y="451" font-size="34.3" textLength="17.6" lengthAdjust="spacingAndGlyphs">R</text>
<text class="l" x="431.6" y="451" font-size="15.1" textLength="17.6" lengthAdjust="spacingAndGlyphs">E</text>
<text class="l" x="450.4" y="450" font-size="15.1" textLength="17.6" lengthAdjust="spacingAndGlyphs">K</text>
<text class="l" x="450.4" y="456" font-size="8.2" textLength="17.6" lengthAdjust="spacingAndGlyphs">N</text>
<text class="l" x="487.9" y="450" font-size="27.4" textLength="17.6" lengthAdjust="spacingAndGlyphs">G</text>
<text class="l" x="513" y="450" font-size="59" textLength="5" lengthAdjust="spacingAndGlyphs">I</text>
<text class="l" x="506.7" y="458" font-size="11" textLength="17.6" lengthAdjust="spacingAndGlyphs">V</text>
<text class="l" x="525.5" y="457" font-size="70" textLength="17.6" lengthAdjust="spacingAndGlyphs">V</text>
<text class="l" x="544.2" y="460" font-size="95.4" textLength="17.6" lengthAdjust="spacingAndGlyphs">P</text>
<text class="l" x="563" y="454.5" font-size="85.8" textLength="17.6" lengthAdjust="spacingAndGlyphs">N</text>
<text class="l" x="581.8" y="439" font-size="34.3" textLength="17.6" lengthAdjust="spacingAndGlyphs">Y</text>
<text class="l" x="581.8" y="460" font-size="28.8" textLength="17.6" lengthAdjust="spacingAndGlyphs">F</text>
<text class="l" x="600.5" y="466" font-size="110.7" textLength="17.6" lengthAdjust="spacingAndGlyphs">T</text>
<text class="l" x="625.6" y="457" font-size="76.8" textLength="5" lengthAdjust="spacingAndGlyphs">I</text>
<text class="l" x="638.1" y="448" font-size="46.6" textLength="17.6" lengthAdjust="spacingAndGlyphs">N</text>
<text class="l" x="638.1" y="461" font-size="17.8" textLength="17.6" lengthAdjust="spacingAndGlyphs">S</text>
<text class="l" x="656.8" y="463.8" font-size="90.8" textLength="17.6" lengthAdjust="spacingAndGlyphs">G</text>
<text class="l" x="694.4" y="450" font-size="23.3" textLength="17.6" lengthAdjust="spacingAndGlyphs">G</text>
<text class="l" x="713.2" y="450" font-size="41.7" textLength="17.6" lengthAdjust="spacingAndGlyphs">L</text>
<text class="l" x="713.2" y="457" font-size="9.6" textLength="17.6" lengthAdjust="spacingAndGlyphs">M</text>
<text class="l" x="731.9" y="450" font-size="38.8" textLength="17.6" lengthAdjust="spacingAndGlyphs">T</text>
<text class="l" x="731.9" y="457" font-size="9.6" textLength="17.6" lengthAdjust="spacingAndGlyphs">N</text>
<text class="l" x="882.1" y="450.7" font-size="19.3" textLength="17.6" lengthAdjust="spacingAndGlyphs">E</text>
<text class="l" x="882.1" y="456" font-size="7.3" textLength="17.6" lengthAdjust="spacingAndGlyphs">D</text>
<text class="l" x="900.9" y="450.7" font-size="19.3" textLength="17.6" lengthAdjust="spacingAndGlyphs">T</text>
<text class="l" x="900.9" y="455" font-size="5.9" textLength="17.6" lengthAdjust="spacingAndGlyphs">L</text>
<text class="l" x="919.6" y="447" font-size="14.3" textLength="17.6" lengthAdjust="spacingAndGlyphs">L</text>
<text class="l" x="919.6" y="457.4" font-size="13.2" textLength="17.6" lengthAdjust="spacingAndGlyphs">A</text>
<text class="l" x="938.4" y="454.5" font-size="7.3" textLength="17.6" lengthAdjust="spacingAndGlyphs">E</text>
<text class="l" x="957.2" y="455.2" font-size="10.2" textLength="17.6" lengthAdjust="spacingAndGlyphs">A</text>
<text class="l" x="975.9" y="444.8" font-size="19.3" textLength="17.6" lengthAdjust="spacingAndGlyphs">T</text>
<text class="l" x="982.2" y="451" font-size="8.5" textLength="5" lengthAdjust="spacingAndGlyphs">I</text>
<text class="r" x="975.9" y="456" font-size="6.2" textLength="17.6" lengthAdjust="spacingAndGlyphs">C</text>
<text class="l" x="994.7" y="451.5" font-size="38.8" textLength="17.6" lengthAdjust="spacingAndGlyphs">K</text>
<text class="l" x="994.7" y="457" font-size="7.5" textLength="17.6" lengthAdjust="spacingAndGlyphs">R</text>
<text class="l" x="1013.5" y="452" font-size="8.2" textLength="17.6" lengthAdjust="spacingAndGlyphs">K</text>
<text class="l" x="1032.2" y="451" font-size="6.9" textLength="17.6" lengthAdjust="spacingAndGlyphs">L</text>
<text class="l" x="1032.2" y="456" font-size="6.9" textLength="17.6" lengthAdjust="spacingAndGlyphs">K</text>
<text class="l" x="1051" y="445.5" font-size="37.7" textLength="17.6" lengthAdjust="spacingAndGlyphs">Y</text>
<text class="l" x="1051" y="459.7" font-size="8.2" textLength="17.6" lengthAdjust="spacingAndGlyphs">V</text>
<text class="r" x="1069.8" y="453" font-size="111.3" textLength="17.6" lengthAdjust="spacingAndGlyphs">C</text>
<text class="l" x="1069.8" y="459.7" font-size="9.2" textLength="17.6" lengthAdjust="spacingAndGlyphs">V</text>
<text class="l" x="1088.6" y="467.8" font-size="105.1" textLength="17.6" lengthAdjust="spacingAndGlyphs">G</text>
<text class="l" x="1107.3" y="461.9" font-size="82.7" textLength="17.6" lengthAdjust="spacingAndGlyphs">A</text>
<text class="l" x="1126.1" y="459" font-size="71.6" textLength="17.6" lengthAdjust="spacingAndGlyphs">V</text>
<text class="l" x="1144.9" y="462" font-size="87.9" textLength="17.6" lengthAdjust="spacingAndGlyphs">A</text>
<text class="l" x="1163.6" y="449.2" font-size="52" textLength="17.6" lengthAdjust="spacingAndGlyphs">V</text>
<text class="l" x="1169.9" y="462" font-size="17.6" textLength="5" lengthAdjust="spacingAndGlyphs">I</text>
<text class="l" x="1182.4" y="467.8" font-size="107.2" textLength="17.6" lengthAdjust="spacingAndGlyphs">S</text>
<text class="l" x="1201.2" y="437.4" font-size="23.6" textLength="17.6" lengthAdjust="spacingAndGlyphs">W</text>
<text class="l" x="1201.2" y="449.2" font-size="16.2" textLength="17.6" lengthAdjust="spacingAndGlyphs">A</text>
<text class="l" x="1201.2" y="453" font-size="5.2" textLength="17.6" lengthAdjust="spacingAndGlyphs">Y</text>
<text class="l" x="1219.9" y="447.8" font-size="58.2" textLength="17.6" lengthAdjust="spacingAndGlyphs">Y</text>
<text class="l" x="1219.9" y="454.5" font-size="7.3" textLength="17.6" lengthAdjust="spacingAndGlyphs">D</text>
<text class="l" x="1238.7" y="451" font-size="5.5" textLength="17.6" lengthAdjust="spacingAndGlyphs">R</text>
<text class="l" x="1370.1" y="428" font-size="13.7" textLength="17.6" lengthAdjust="spacingAndGlyphs">D</text>
<text class="l" x="1388.9" y="433" font-size="17.8" textLength="17.6" lengthAdjust="spacingAndGlyphs">Y</text>
<text class="l" x="1388.9" y="440" font-size="8.2" textLength="17.6" lengthAdjust="spacingAndGlyphs">R</text>
<text class="l" x="1482.7" y="440" font-size="6.9" textLength="17.6" lengthAdjust="spacingAndGlyphs">D</text>
<text class="l" x="1501.5" y="435" font-size="9.6" textLength="17.6" lengthAdjust="spacingAndGlyphs">D</text>
<text class="l" x="1520.3" y="436" font-size="6.9" textLength="17.6" lengthAdjust="spacingAndGlyphs">E</text>
<text class="l" x="1520.3" y="441" font-size="6.9" textLength="17.6" lengthAdjust="spacingAndGlyphs">Y</text>
<text class="l" x="1539" y="435.6" font-size="19.3" textLength="17.6" lengthAdjust="spacingAndGlyphs">T</text>

<!-- ROW 5 -->
<text class="l" x="75" y="575" font-size="13.7" textLength="17.6" lengthAdjust="spacingAndGlyphs">A</text>
<text class="l" x="100" y="564" font-size="27.4" textLength="5" lengthAdjust="spacingAndGlyphs">I</text>
<text class="l" x="93.7" y="576" font-size="13.7" textLength="17.6" lengthAdjust="spacingAndGlyphs">V</text>
<text class="l" x="93.7" y="587" font-size="15.1" textLength="17.6" lengthAdjust="spacingAndGlyphs">L</text>
<text class="l" x="206.4" y="573" font-size="8.2" textLength="17.6" lengthAdjust="spacingAndGlyphs">L</text>
<text class="l" x="225.1" y="577.8" font-size="55.3" textLength="17.6" lengthAdjust="spacingAndGlyphs">L</text>
<text class="l" x="262.7" y="572" font-size="8.2" textLength="17.6" lengthAdjust="spacingAndGlyphs">D</text>
<text class="l" x="281.4" y="576" font-size="8.2" textLength="17.6" lengthAdjust="spacingAndGlyphs">A</text>
<text class="l" x="300.2" y="567.4" font-size="36.2" textLength="17.6" lengthAdjust="spacingAndGlyphs">G</text>
<text class="l" x="300.2" y="580" font-size="5.5" textLength="17.6" lengthAdjust="spacingAndGlyphs">D</text>
<text class="l" x="325.3" y="565.3" font-size="30.6" textLength="5" lengthAdjust="spacingAndGlyphs">I</text>
<text class="l" x="319" y="579.2" font-size="16.2" textLength="17.6" lengthAdjust="spacingAndGlyphs">V</text>
<text class="l" x="337.8" y="577.8" font-size="44.7" textLength="17.6" lengthAdjust="spacingAndGlyphs">K</text>
<text class="l" x="375.3" y="573.6" font-size="43.8" textLength="17.6" lengthAdjust="spacingAndGlyphs">T</text>
<text class="l" x="375.3" y="578" font-size="5.5" textLength="17.6" lengthAdjust="spacingAndGlyphs">V</text>
<text class="l" x="375.3" y="586" font-size="8.2" textLength="17.6" lengthAdjust="spacingAndGlyphs">A</text>
<text class="l" x="394.1" y="586.1" font-size="110.4" textLength="17.6" lengthAdjust="spacingAndGlyphs">N</text>
<text class="l" x="419.1" y="568.8" font-size="52.4" textLength="5" lengthAdjust="spacingAndGlyphs">I</text>
<text class="l" x="412.8" y="582" font-size="18.1" textLength="17.6" lengthAdjust="spacingAndGlyphs">V</text>
<text class="l" x="431.6" y="587.5" font-size="131.4" textLength="17.6" lengthAdjust="spacingAndGlyphs">H</text>
<text class="l" x="450.4" y="545.8" font-size="18.1" textLength="17.6" lengthAdjust="spacingAndGlyphs">F</text>
<text class="l" x="450.4" y="575" font-size="40.1" textLength="17.6" lengthAdjust="spacingAndGlyphs">V</text>
<text class="l" x="469.1" y="572.2" font-size="37.3" textLength="17.6" lengthAdjust="spacingAndGlyphs">V</text>
<text class="l" x="475.4" y="581" font-size="12.3" textLength="5" lengthAdjust="spacingAndGlyphs">I</text>
<text class="l" x="487.9" y="573.6" font-size="39" textLength="17.6" lengthAdjust="spacingAndGlyphs">L</text>
<text class="l" x="487.9" y="581" font-size="10.2" textLength="17.6" lengthAdjust="spacingAndGlyphs">V</text>
<text class="l" x="506.7" y="568.8" font-size="16.2" textLength="17.6" lengthAdjust="spacingAndGlyphs">S</text>
<text class="l" x="506.7" y="577.8" font-size="11.4" textLength="17.6" lengthAdjust="spacingAndGlyphs">D</text>
<text class="l" x="525.5" y="573.6" font-size="6.6" textLength="17.6" lengthAdjust="spacingAndGlyphs">K</text>
<text class="l" x="544.2" y="575" font-size="5.5" textLength="17.6" lengthAdjust="spacingAndGlyphs">E</text>
<text class="l" x="563" y="561.8" font-size="30.5" textLength="17.6" lengthAdjust="spacingAndGlyphs">S</text>
<text class="l" x="563" y="566" font-size="4.1" textLength="17.6" lengthAdjust="spacingAndGlyphs">T</text>
<text class="l" x="563" y="587.5" font-size="6.6" textLength="17.6" lengthAdjust="spacingAndGlyphs">N</text>
<text class="l" x="581.8" y="567.4" font-size="34.3" textLength="17.6" lengthAdjust="spacingAndGlyphs">T</text>
<text class="l" x="581.8" y="577" font-size="13.2" textLength="17.6" lengthAdjust="spacingAndGlyphs">V</text>
<text class="l" x="600.5" y="573.6" font-size="13.3" textLength="17.6" lengthAdjust="spacingAndGlyphs">D</text>
<text class="l" x="600.5" y="576.4" font-size="3.8" textLength="17.6" lengthAdjust="spacingAndGlyphs">E</text>
<text class="l" x="619.3" y="572.9" font-size="12.3" textLength="17.6" lengthAdjust="spacingAndGlyphs">E</text>
<text class="l" x="619.3" y="577.8" font-size="6.7" textLength="17.6" lengthAdjust="spacingAndGlyphs">T</text>
<text class="l" x="638.1" y="563.9" font-size="42" textLength="17.6" lengthAdjust="spacingAndGlyphs">A</text>
<text class="l" x="644.4" y="571.5" font-size="10.4" textLength="5" lengthAdjust="spacingAndGlyphs">I</text>
<text class="l" x="638.1" y="583.3" font-size="16.2" textLength="17.6" lengthAdjust="spacingAndGlyphs">L</text>
<text class="r" x="638.1" y="588.2" font-size="6.7" textLength="17.6" lengthAdjust="spacingAndGlyphs">C</text>
<text class="l" x="663.1" y="572.2" font-size="27.7" textLength="5" lengthAdjust="spacingAndGlyphs">I</text>
<text class="l" x="675.6" y="574.3" font-size="5.8" textLength="17.6" lengthAdjust="spacingAndGlyphs">E</text>
<text class="l" x="675.6" y="578.5" font-size="5.8" textLength="17.6" lengthAdjust="spacingAndGlyphs">D</text>
<text class="l" x="700.7" y="557.6" font-size="10.4" textLength="5" lengthAdjust="spacingAndGlyphs">I</text>
<text class="l" x="694.4" y="567.4" font-size="13.4" textLength="17.6" lengthAdjust="spacingAndGlyphs">W</text>
<text class="l" x="694.4" y="575" font-size="10.4" textLength="17.6" lengthAdjust="spacingAndGlyphs">L</text>
<text class="l" x="694.4" y="583.3" font-size="11.4" textLength="17.6" lengthAdjust="spacingAndGlyphs">R</text>
<text class="l" x="713.2" y="575" font-size="40.9" textLength="17.6" lengthAdjust="spacingAndGlyphs">L</text>
<text class="l" x="719.5" y="580.5" font-size="7.5" textLength="5" lengthAdjust="spacingAndGlyphs">I</text>
<text class="l" x="713.2" y="586" font-size="7.5" textLength="17.6" lengthAdjust="spacingAndGlyphs">V</text>
<text class="l" x="731.9" y="574.3" font-size="9.5" textLength="17.6" lengthAdjust="spacingAndGlyphs">E</text>
<text class="l" x="731.9" y="577.8" font-size="4.8" textLength="17.6" lengthAdjust="spacingAndGlyphs">K</text>
<text class="l" x="863.3" y="576" font-size="11" textLength="17.6" lengthAdjust="spacingAndGlyphs">P</text>
<text class="l" x="882.1" y="570.2" font-size="11.5" textLength="17.6" lengthAdjust="spacingAndGlyphs">P</text>
<text class="l" x="882.1" y="576.4" font-size="8.5" textLength="17.6" lengthAdjust="spacingAndGlyphs">N</text>
<text class="l" x="882.1" y="582" font-size="7.7" textLength="17.6" lengthAdjust="spacingAndGlyphs">D</text>
<text class="l" x="919.6" y="569.5" font-size="22.9" textLength="17.6" lengthAdjust="spacingAndGlyphs">F</text>
<text class="l" x="919.6" y="575" font-size="5.8" textLength="17.6" lengthAdjust="spacingAndGlyphs">Y</text>
<text class="l" x="938.4" y="569.5" font-size="22.9" textLength="17.6" lengthAdjust="spacingAndGlyphs">L</text>
<text class="l" x="938.4" y="576.4" font-size="7.7" textLength="17.6" lengthAdjust="spacingAndGlyphs">P</text>
<text class="l" x="994.7" y="567" font-size="8.2" textLength="17.6" lengthAdjust="spacingAndGlyphs">K</text>
<text class="l" x="1013.5" y="575" font-size="24.6" textLength="17.6" lengthAdjust="spacingAndGlyphs">G</text>
<text class="l" x="1038.5" y="563" font-size="30.5" textLength="5" lengthAdjust="spacingAndGlyphs">I</text>
<text class="l" x="1032.2" y="578" font-size="20.6" textLength="17.6" lengthAdjust="spacingAndGlyphs">V</text>
<text class="l" x="1032.2" y="584" font-size="7.3" textLength="17.6" lengthAdjust="spacingAndGlyphs">L</text>
<text class="l" x="1032.2" y="587.6" font-size="4.9" textLength="17.6" lengthAdjust="spacingAndGlyphs">F</text>
<text class="l" x="1051" y="579.5" font-size="91" textLength="17.6" lengthAdjust="spacingAndGlyphs">N</text>
<text class="l" x="1069.8" y="575" font-size="42.9" textLength="17.6" lengthAdjust="spacingAndGlyphs">A</text>
<text class="l" x="1069.8" y="580.9" font-size="8.1" textLength="17.6" lengthAdjust="spacingAndGlyphs">S</text>
<text class="l" x="1069.8" y="585.4" font-size="6.2" textLength="17.6" lengthAdjust="spacingAndGlyphs">G</text>
<text class="l" x="1094.9" y="561.6" font-size="29.6" textLength="5" lengthAdjust="spacingAndGlyphs">I</text>
<text class="l" x="1088.6" y="581" font-size="26.6" textLength="17.6" lengthAdjust="spacingAndGlyphs">V</text>
<text class="l" x="1088.6" y="587.6" font-size="9" textLength="17.6" lengthAdjust="spacingAndGlyphs">L</text>
<text class="l" x="1113.6" y="564.6" font-size="51" textLength="5" lengthAdjust="spacingAndGlyphs">I</text>
<text class="l" x="1107.3" y="588.4" font-size="32.7" textLength="17.6" lengthAdjust="spacingAndGlyphs">V</text>
<text class="l" x="1126.1" y="588.4" font-size="119.5" textLength="17.6" lengthAdjust="spacingAndGlyphs">F</text>
<text class="l" x="1144.9" y="584" font-size="82.7" textLength="17.6" lengthAdjust="spacingAndGlyphs">L</text>
<text class="l" x="1163.6" y="566" font-size="15.2" textLength="17.6" lengthAdjust="spacingAndGlyphs">L</text>
<text class="l" x="1163.6" y="576.5" font-size="14.4" textLength="17.6" lengthAdjust="spacingAndGlyphs">N</text>
<text class="l" x="1163.6" y="583.2" font-size="8.2" textLength="17.6" lengthAdjust="spacingAndGlyphs">T</text>
<text class="l" x="1182.4" y="557.1" font-size="45.8" textLength="17.6" lengthAdjust="spacingAndGlyphs">Y</text>
<text class="l" x="1182.4" y="575.7" font-size="25.5" textLength="17.6" lengthAdjust="spacingAndGlyphs">H</text>
<text class="l" x="1182.4" y="582.4" font-size="9.2" textLength="17.6" lengthAdjust="spacingAndGlyphs">L</text>
<text class="l" x="1201.2" y="589.1" font-size="115.4" textLength="17.6" lengthAdjust="spacingAndGlyphs">K</text>
<text class="l" x="1219.9" y="581" font-size="85.9" textLength="17.6" lengthAdjust="spacingAndGlyphs">P</text>
<text class="l" x="1238.7" y="572.8" font-size="14.4" textLength="17.6" lengthAdjust="spacingAndGlyphs">V</text>
<text class="l" x="1238.7" y="577" font-size="5.8" textLength="17.6" lengthAdjust="spacingAndGlyphs">S</text>
<text class="l" x="1238.7" y="581" font-size="5.5" textLength="17.6" lengthAdjust="spacingAndGlyphs">K</text>
<text class="l" x="1257.5" y="589.1" font-size="105.1" textLength="17.6" lengthAdjust="spacingAndGlyphs">G</text>
<text class="l" x="1276.3" y="579.5" font-size="43.9" textLength="17.6" lengthAdjust="spacingAndGlyphs">R</text>
<text class="l" x="1313.8" y="570.5" font-size="20.3" textLength="17.6" lengthAdjust="spacingAndGlyphs">G</text>
<text class="l" x="1313.8" y="578.7" font-size="10.6" textLength="17.6" lengthAdjust="spacingAndGlyphs">A</text>
<text class="l" x="1313.8" y="583.2" font-size="6.2" textLength="17.6" lengthAdjust="spacingAndGlyphs">K</text>
<text class="l" x="1370.1" y="575.8" font-size="8.2" textLength="17.6" lengthAdjust="spacingAndGlyphs">E</text>
<text class="l" x="1388.9" y="570.5" font-size="6.2" textLength="17.6" lengthAdjust="spacingAndGlyphs">N</text>
<text class="l" x="1388.9" y="575.8" font-size="7.3" textLength="17.6" lengthAdjust="spacingAndGlyphs">D</text>
<text class="l" x="1388.9" y="579.5" font-size="5.1" textLength="17.6" lengthAdjust="spacingAndGlyphs">K</text>
<text class="l" x="1407.6" y="578" font-size="7.1" textLength="17.6" lengthAdjust="spacingAndGlyphs">V</text>
<text class="l" x="1426.4" y="572" font-size="29.5" textLength="17.6" lengthAdjust="spacingAndGlyphs">L</text>
<text class="l" x="1426.4" y="579.5" font-size="10.3" textLength="17.6" lengthAdjust="spacingAndGlyphs">T</text>
<text class="l" x="1445.2" y="578" font-size="9.2" textLength="17.6" lengthAdjust="spacingAndGlyphs">L</text>
<text class="l" x="1482.7" y="573.5" font-size="9.2" textLength="17.6" lengthAdjust="spacingAndGlyphs">D</text>
<text class="l" x="1482.7" y="578" font-size="5.5" textLength="17.6" lengthAdjust="spacingAndGlyphs">N</text>
<text class="l" x="1501.5" y="572" font-size="12.2" textLength="17.6" lengthAdjust="spacingAndGlyphs">D</text>
<text class="l" x="1501.5" y="578" font-size="7.1" textLength="17.6" lengthAdjust="spacingAndGlyphs">S</text>
<text class="l" x="1520.3" y="579.5" font-size="6.2" textLength="17.6" lengthAdjust="spacingAndGlyphs">P</text>
<text class="l" x="1539" y="572" font-size="16.5" textLength="17.6" lengthAdjust="spacingAndGlyphs">R</text>
<text class="l" x="1539" y="579.5" font-size="9.2" textLength="17.6" lengthAdjust="spacingAndGlyphs">K</text>

<!-- ROW 6 -->
<text class="l" x="112.5" y="693.6" font-size="12.2" textLength="17.6" lengthAdjust="spacingAndGlyphs">L</text>
<text class="l" x="112.5" y="700.4" font-size="9.3" textLength="17.6" lengthAdjust="spacingAndGlyphs">V</text>
<text class="l" x="150.1" y="694.3" font-size="8.1" textLength="17.6" lengthAdjust="spacingAndGlyphs">E</text>
<text class="l" x="150.1" y="701.8" font-size="8.2" textLength="17.6" lengthAdjust="spacingAndGlyphs">K</text>
<text class="l" x="168.8" y="704" font-size="81.6" textLength="17.6" lengthAdjust="spacingAndGlyphs">F</text>
<text class="l" x="187.6" y="689.9" font-size="18.4" textLength="17.6" lengthAdjust="spacingAndGlyphs">F</text>
<text class="l" x="187.6" y="698" font-size="11.1" textLength="17.6" lengthAdjust="spacingAndGlyphs">L</text>
<text class="l" x="206.4" y="700.3" font-size="6.2" textLength="17.6" lengthAdjust="spacingAndGlyphs">S</text>
<text class="l" x="225.1" y="698.1" font-size="25.5" textLength="17.6" lengthAdjust="spacingAndGlyphs">L</text>
<text class="l" x="243.9" y="686.9" font-size="20.4" textLength="17.6" lengthAdjust="spacingAndGlyphs">V</text>
<text class="l" x="250.2" y="697.3" font-size="13.3" textLength="5" lengthAdjust="spacingAndGlyphs">I</text>
<text class="l" x="243.9" y="704.8" font-size="8.2" textLength="17.6" lengthAdjust="spacingAndGlyphs">A</text>
<text class="l" x="262.7" y="695.1" font-size="6.2" textLength="17.6" lengthAdjust="spacingAndGlyphs">D</text>
<text class="l" x="262.7" y="699.5" font-size="5.1" textLength="17.6" lengthAdjust="spacingAndGlyphs">T</text>
<text class="l" x="337.8" y="698.8" font-size="6.2" textLength="17.6" lengthAdjust="spacingAndGlyphs">K</text>
<text class="l" x="394.1" y="698.8" font-size="5.2" textLength="17.6" lengthAdjust="spacingAndGlyphs">K</text>
<text class="l" x="412.8" y="692.9" font-size="5.4" textLength="17.6" lengthAdjust="spacingAndGlyphs">F</text>
<text class="l" x="412.8" y="698" font-size="7" textLength="17.6" lengthAdjust="spacingAndGlyphs">L</text>
<text class="l" x="431.6" y="692.1" font-size="34.7" textLength="17.6" lengthAdjust="spacingAndGlyphs">K</text>
<text class="l" x="431.6" y="701" font-size="11.1" textLength="17.6" lengthAdjust="spacingAndGlyphs">R</text>
<text class="l" x="456.7" y="686.9" font-size="29.6" textLength="5" lengthAdjust="spacingAndGlyphs">I</text>
<text class="l" x="450.4" y="701" font-size="16.3" textLength="17.6" lengthAdjust="spacingAndGlyphs">V</text>
<text class="l" x="469.1" y="707.7" font-size="90.8" textLength="17.6" lengthAdjust="spacingAndGlyphs">G</text>
<text class="l" x="487.9" y="701.8" font-size="100" textLength="17.6" lengthAdjust="spacingAndGlyphs">F</text>
<text class="l" x="487.9" y="707.7" font-size="8.1" textLength="17.6" lengthAdjust="spacingAndGlyphs">M</text>
<text class="l" x="506.7" y="711.5" font-size="118.5" textLength="17.6" lengthAdjust="spacingAndGlyphs">D</text>
<text class="l" x="525.5" y="691.4" font-size="35.8" textLength="17.6" lengthAdjust="spacingAndGlyphs">S</text>
<text class="l" x="525.5" y="704" font-size="17.3" textLength="17.6" lengthAdjust="spacingAndGlyphs">A</text>
<text class="r" x="544.2" y="709" font-size="160.5" textLength="17.6" lengthAdjust="spacingAndGlyphs">C</text>
<text class="l" x="563" y="684" font-size="16.5" textLength="17.6" lengthAdjust="spacingAndGlyphs">S</text>
<text class="l" x="563" y="693.6" font-size="13.2" textLength="17.6" lengthAdjust="spacingAndGlyphs">F</text>
<text class="r" x="563" y="700" font-size="6.9" textLength="17.6" lengthAdjust="spacingAndGlyphs">C</text>
<text class="l" x="581.8" y="691.4" font-size="30.7" textLength="17.6" lengthAdjust="spacingAndGlyphs">V</text>
<text class="l" x="588.1" y="698.8" font-size="10.2" textLength="5" lengthAdjust="spacingAndGlyphs">I</text>
<text class="l" x="581.8" y="704" font-size="7.1" textLength="17.6" lengthAdjust="spacingAndGlyphs">A</text>
<text class="l" x="600.5" y="675.7" font-size="25.5" textLength="17.6" lengthAdjust="spacingAndGlyphs">P</text>
<text class="l" x="600.5" y="704.8" font-size="20.3" textLength="17.6" lengthAdjust="spacingAndGlyphs">S</text>
<text class="l" x="619.3" y="694.3" font-size="11.1" textLength="17.6" lengthAdjust="spacingAndGlyphs">G</text>
<text class="l" x="619.3" y="703" font-size="11" textLength="17.6" lengthAdjust="spacingAndGlyphs">A</text>
<text class="l" x="638.1" y="690.6" font-size="19.3" textLength="17.6" lengthAdjust="spacingAndGlyphs">L</text>
<text class="l" x="638.1" y="698.8" font-size="11.3" textLength="17.6" lengthAdjust="spacingAndGlyphs">V</text>
<text class="l" x="644.4" y="704.8" font-size="8.2" textLength="5" lengthAdjust="spacingAndGlyphs">I</text>
<text class="l" x="656.8" y="693.6" font-size="6.2" textLength="17.6" lengthAdjust="spacingAndGlyphs">L</text>
<text class="l" x="656.8" y="698.8" font-size="6.2" textLength="17.6" lengthAdjust="spacingAndGlyphs">V</text>
<text class="l" x="675.6" y="694.3" font-size="5.1" textLength="17.6" lengthAdjust="spacingAndGlyphs">K</text>
<text class="l" x="675.6" y="698.8" font-size="5.2" textLength="17.6" lengthAdjust="spacingAndGlyphs">N</text>
<text class="l" x="694.4" y="693.6" font-size="6.2" textLength="17.6" lengthAdjust="spacingAndGlyphs">F</text>
<text class="l" x="694.4" y="697.3" font-size="5.1" textLength="17.6" lengthAdjust="spacingAndGlyphs">Y</text>
<text class="l" x="1069.8" y="700" font-size="5.5" textLength="17.6" lengthAdjust="spacingAndGlyphs">E</text>
<text class="l" x="1088.6" y="689.6" font-size="9.2" textLength="17.6" lengthAdjust="spacingAndGlyphs">S</text>
<text class="l" x="1088.6" y="699.2" font-size="12.2" textLength="17.6" lengthAdjust="spacingAndGlyphs">F</text>
<text class="l" x="1113.6" y="686.6" font-size="14.5" textLength="5" lengthAdjust="spacingAndGlyphs">I</text>
<text class="l" x="1107.3" y="697" font-size="12.3" textLength="17.6" lengthAdjust="spacingAndGlyphs">V</text>
<text class="l" x="1107.3" y="702" font-size="6.9" textLength="17.6" lengthAdjust="spacingAndGlyphs">L</text>
<text class="l" x="1126.1" y="682" font-size="45.8" textLength="17.6" lengthAdjust="spacingAndGlyphs">D</text>
<text class="l" x="1126.1" y="708.9" font-size="36.9" textLength="17.6" lengthAdjust="spacingAndGlyphs">E</text>
<text class="l" x="1144.9" y="689.6" font-size="5.2" textLength="17.6" lengthAdjust="spacingAndGlyphs">T</text>
<text class="l" x="1144.9" y="698.5" font-size="11.3" textLength="17.6" lengthAdjust="spacingAndGlyphs">A</text>
<text class="l" x="1144.9" y="705" font-size="8.9" textLength="17.6" lengthAdjust="spacingAndGlyphs">S</text>
<text class="r" x="1163.6" y="710.4" font-size="163.3" textLength="17.6" lengthAdjust="spacingAndGlyphs">C</text>
<text class="l" x="1182.4" y="694.8" font-size="55.2" textLength="17.6" lengthAdjust="spacingAndGlyphs">E</text>
<text class="l" x="1182.4" y="705.9" font-size="15.2" textLength="17.6" lengthAdjust="spacingAndGlyphs">D</text>
<text class="l" x="1201.2" y="690.3" font-size="32.7" textLength="17.6" lengthAdjust="spacingAndGlyphs">A</text>
<text class="l" x="1201.2" y="700" font-size="13.3" textLength="17.6" lengthAdjust="spacingAndGlyphs">G</text>
<text class="r" x="1201.2" y="706" font-size="8.2" textLength="17.6" lengthAdjust="spacingAndGlyphs">C</text>
<text class="l" x="1238.7" y="691.8" font-size="28.5" textLength="17.6" lengthAdjust="spacingAndGlyphs">G</text>
<text class="l" x="1238.7" y="703" font-size="15.4" textLength="17.6" lengthAdjust="spacingAndGlyphs">A</text>
<text class="l" x="1257.5" y="691" font-size="44.9" textLength="17.6" lengthAdjust="spacingAndGlyphs">R</text>
<text class="l" x="1257.5" y="701.5" font-size="13.3" textLength="17.6" lengthAdjust="spacingAndGlyphs">F</text>
<text class="l" x="1276.3" y="694" font-size="76.6" textLength="17.6" lengthAdjust="spacingAndGlyphs">F</text>
<text class="l" x="1276.3" y="701.5" font-size="9.2" textLength="17.6" lengthAdjust="spacingAndGlyphs">W</text>
<text class="l" x="1295" y="709.7" font-size="102.1" textLength="17.6" lengthAdjust="spacingAndGlyphs">S</text>
<text class="l" x="1313.8" y="691.8" font-size="13.4" textLength="17.6" lengthAdjust="spacingAndGlyphs">A</text>
<text class="l" x="1313.8" y="697" font-size="7.1" textLength="17.6" lengthAdjust="spacingAndGlyphs">V</text>
<text class="l" x="1313.8" y="702" font-size="6.9" textLength="17.6" lengthAdjust="spacingAndGlyphs">M</text>
<text class="l" x="1332.6" y="689.6" font-size="77.7" textLength="17.6" lengthAdjust="spacingAndGlyphs">Y</text>
<text class="l" x="1332.6" y="706.7" font-size="23.5" textLength="17.6" lengthAdjust="spacingAndGlyphs">F</text>
<text class="l" x="1357.6" y="689.6" font-size="58.4" textLength="5" lengthAdjust="spacingAndGlyphs">I</text>
<text class="l" x="1351.3" y="709" font-size="26.6" textLength="17.6" lengthAdjust="spacingAndGlyphs">V</text>
<text class="l" x="1370.1" y="685" font-size="18.2" textLength="17.6" lengthAdjust="spacingAndGlyphs">D</text>
<text class="l" x="1370.1" y="698.5" font-size="18.5" textLength="17.6" lengthAdjust="spacingAndGlyphs">S</text>
<text class="l" x="1370.1" y="703" font-size="6.2" textLength="17.6" lengthAdjust="spacingAndGlyphs">N</text>
<text class="l" x="1388.9" y="690.3" font-size="20.4" textLength="17.6" lengthAdjust="spacingAndGlyphs">E</text>
<text class="l" x="1388.9" y="695" font-size="6.4" textLength="17.6" lengthAdjust="spacingAndGlyphs">P</text>
<text class="l" x="1388.9" y="699" font-size="5.5" textLength="17.6" lengthAdjust="spacingAndGlyphs">S</text>
<text class="l" x="1407.6" y="685" font-size="18.2" textLength="17.6" lengthAdjust="spacingAndGlyphs">D</text>
<text class="l" x="1407.6" y="699.2" font-size="19.5" textLength="17.6" lengthAdjust="spacingAndGlyphs">N</text>
<text class="l" x="1407.6" y="703" font-size="5.2" textLength="17.6" lengthAdjust="spacingAndGlyphs">E</text>
<text class="l" x="1426.4" y="685" font-size="26.3" textLength="17.6" lengthAdjust="spacingAndGlyphs">L</text>
<text class="l" x="1426.4" y="700" font-size="20.6" textLength="17.6" lengthAdjust="spacingAndGlyphs">M</text>
<text class="l" x="1426.4" y="704" font-size="5.5" textLength="17.6" lengthAdjust="spacingAndGlyphs">G</text>
<text class="l" x="1445.2" y="692.6" font-size="8.1" textLength="17.6" lengthAdjust="spacingAndGlyphs">K</text>
<text class="l" x="1445.2" y="700" font-size="10.2" textLength="17.6" lengthAdjust="spacingAndGlyphs">N</text>
<text class="l" x="1464" y="683.6" font-size="20.4" textLength="17.6" lengthAdjust="spacingAndGlyphs">V</text>
<text class="l" x="1464" y="697" font-size="18.4" textLength="17.6" lengthAdjust="spacingAndGlyphs">M</text>
<text class="l" x="1464" y="703" font-size="8.2" textLength="17.6" lengthAdjust="spacingAndGlyphs">A</text>
<text class="l" x="1482.7" y="691.2" font-size="12.2" textLength="17.6" lengthAdjust="spacingAndGlyphs">Y</text>
<text class="l" x="1482.7" y="696" font-size="6.6" textLength="17.6" lengthAdjust="spacingAndGlyphs">L</text>
<text class="l" x="1482.7" y="700" font-size="5.5" textLength="17.6" lengthAdjust="spacingAndGlyphs">M</text>
<text class="l" x="1501.5" y="709.7" font-size="115.4" textLength="17.6" lengthAdjust="spacingAndGlyphs">P</text>
<text class="r" x="1520.3" y="710.4" font-size="165.2" textLength="17.6" lengthAdjust="spacingAndGlyphs">C</text>
<text class="l" x="1539" y="708.2" font-size="99.1" textLength="17.6" lengthAdjust="spacingAndGlyphs">S</text>

<!-- ROW 7 -->
<text class="l" x="56.2" y="831.2" font-size="127.6" textLength="17.6" lengthAdjust="spacingAndGlyphs">F</text>
<text class="l" x="75" y="811.2" font-size="7.3" textLength="17.6" lengthAdjust="spacingAndGlyphs">M</text>
<text class="l" x="75" y="817.1" font-size="7.1" textLength="17.6" lengthAdjust="spacingAndGlyphs">D</text>
<text class="l" x="93.7" y="817.1" font-size="6.2" textLength="17.6" lengthAdjust="spacingAndGlyphs">N</text>
<text class="l" x="93.7" y="820.8" font-size="4.1" textLength="17.6" lengthAdjust="spacingAndGlyphs">E</text>
<text class="l" x="112.5" y="813.4" font-size="7.1" textLength="17.6" lengthAdjust="spacingAndGlyphs">G</text>
<text class="l" x="112.5" y="818" font-size="6.3" textLength="17.6" lengthAdjust="spacingAndGlyphs">N</text>
<text class="l" x="112.5" y="821.6" font-size="4.1" textLength="17.6" lengthAdjust="spacingAndGlyphs">D</text>
<text class="l" x="225.1" y="797" font-size="18.4" textLength="17.6" lengthAdjust="spacingAndGlyphs">Y</text>
<text class="l" x="225.1" y="813.4" font-size="22.5" textLength="17.6" lengthAdjust="spacingAndGlyphs">W</text>
<text class="l" x="225.1" y="820.8" font-size="9.3" textLength="17.6" lengthAdjust="spacingAndGlyphs">F</text>
<text class="l" x="281.4" y="818.6" font-size="13.3" textLength="17.6" lengthAdjust="spacingAndGlyphs">G</text>
<text class="l" x="281.4" y="825" font-size="8.8" textLength="17.6" lengthAdjust="spacingAndGlyphs">S</text>
<text class="l" x="300.2" y="813.4" font-size="10.2" textLength="17.6" lengthAdjust="spacingAndGlyphs">V</text>
<text class="l" x="306.5" y="818" font-size="6.3" textLength="5" lengthAdjust="spacingAndGlyphs">I</text>
<text class="l" x="300.2" y="823" font-size="6.9" textLength="17.6" lengthAdjust="spacingAndGlyphs">Y</text>
<text class="l" x="319" y="805.9" font-size="15.2" textLength="17.6" lengthAdjust="spacingAndGlyphs">D</text>
<text class="l" x="319" y="817.8" font-size="16.3" textLength="17.6" lengthAdjust="spacingAndGlyphs">N</text>
<text class="l" x="319" y="825.3" font-size="10.3" textLength="17.6" lengthAdjust="spacingAndGlyphs">S</text>
<text class="l" x="337.8" y="822.3" font-size="59.1" textLength="17.6" lengthAdjust="spacingAndGlyphs">L</text>
<text class="l" x="356.5" y="814.1" font-size="10.2" textLength="17.6" lengthAdjust="spacingAndGlyphs">R</text>
<text class="l" x="356.5" y="823" font-size="12.2" textLength="17.6" lengthAdjust="spacingAndGlyphs">K</text>
<text class="l" x="375.3" y="818.6" font-size="8.2" textLength="17.6" lengthAdjust="spacingAndGlyphs">E</text>
<text class="l" x="375.3" y="823" font-size="6" textLength="17.6" lengthAdjust="spacingAndGlyphs">D</text>
<text class="l" x="431.6" y="811.9" font-size="21.4" textLength="17.6" lengthAdjust="spacingAndGlyphs">S</text>
<text class="l" x="431.6" y="818" font-size="8.2" textLength="17.6" lengthAdjust="spacingAndGlyphs">T</text>
<text class="l" x="431.6" y="823" font-size="6.9" textLength="17.6" lengthAdjust="spacingAndGlyphs">D</text>
<text class="l" x="431.6" y="829" font-size="8.2" textLength="17.6" lengthAdjust="spacingAndGlyphs">N</text>
<text class="l" x="450.4" y="801.4" font-size="18.4" textLength="17.6" lengthAdjust="spacingAndGlyphs">L</text>
<text class="l" x="456.7" y="812.6" font-size="15.4" textLength="5" lengthAdjust="spacingAndGlyphs">I</text>
<text class="l" x="450.4" y="827.5" font-size="20.4" textLength="17.6" lengthAdjust="spacingAndGlyphs">F</text>
<text class="l" x="450.4" y="831.2" font-size="5.1" textLength="17.6" lengthAdjust="spacingAndGlyphs">M</text>
<text class="l" x="506.7" y="810.4" font-size="27.6" textLength="17.6" lengthAdjust="spacingAndGlyphs">D</text>
<text class="l" x="506.7" y="823.8" font-size="17.4" textLength="17.6" lengthAdjust="spacingAndGlyphs">E</text>
<text class="l" x="506.7" y="828" font-size="5.8" textLength="17.6" lengthAdjust="spacingAndGlyphs">V</text>
<text class="l" x="531.8" y="810.4" font-size="39.8" textLength="5" lengthAdjust="spacingAndGlyphs">I</text>
<text class="l" x="525.5" y="826" font-size="21.4" textLength="17.6" lengthAdjust="spacingAndGlyphs">A</text>
<text class="l" x="547" y="833" font-size="167.4" textLength="12" lengthAdjust="spacingAndGlyphs">W</text>
<text class="l" x="563" y="810.4" font-size="11.3" textLength="17.6" lengthAdjust="spacingAndGlyphs">Q</text>
<text class="l" x="563" y="817.1" font-size="9.2" textLength="17.6" lengthAdjust="spacingAndGlyphs">R</text>
<text class="l" x="581.8" y="811.9" font-size="16.3" textLength="17.6" lengthAdjust="spacingAndGlyphs">N</text>
<text class="l" x="581.8" y="817.8" font-size="5.2" textLength="17.6" lengthAdjust="spacingAndGlyphs">K</text>
<text class="l" x="581.8" y="823" font-size="6.9" textLength="17.6" lengthAdjust="spacingAndGlyphs">D</text>
<text class="l" x="638.1" y="814.1" font-size="18.4" textLength="17.6" lengthAdjust="spacingAndGlyphs">S</text>
<text class="l" x="638.1" y="818" font-size="5.4" textLength="17.6" lengthAdjust="spacingAndGlyphs">G</text>
<text class="l" x="638.1" y="823" font-size="6.9" textLength="17.6" lengthAdjust="spacingAndGlyphs">N</text>
<text class="l" x="656.8" y="822" font-size="5.5" textLength="17.6" lengthAdjust="spacingAndGlyphs">E</text>
<text class="l" x="694.4" y="814.9" font-size="50.1" textLength="17.6" lengthAdjust="spacingAndGlyphs">F</text>
<text class="l" x="694.4" y="818" font-size="4.3" textLength="17.6" lengthAdjust="spacingAndGlyphs">M</text>
<text class="l" x="694.4" y="828" font-size="13.7" textLength="17.6" lengthAdjust="spacingAndGlyphs">K</text>
<text class="l" x="750.7" y="806.5" font-size="46.9" textLength="17.6" lengthAdjust="spacingAndGlyphs">F</text>
<text class="l" x="750.7" y="821.4" font-size="20.4" textLength="17.6" lengthAdjust="spacingAndGlyphs">Y</text>
<text class="l" x="750.7" y="829" font-size="10.4" textLength="17.6" lengthAdjust="spacingAndGlyphs">M</text>
<text class="l" x="769.5" y="830.4" font-size="107.3" textLength="17.6" lengthAdjust="spacingAndGlyphs">R</text>
<text class="l" x="788.2" y="817" font-size="7.3" textLength="17.6" lengthAdjust="spacingAndGlyphs">N</text>
<text class="l" x="788.2" y="821.4" font-size="6" textLength="17.6" lengthAdjust="spacingAndGlyphs">E</text>
<text class="l" x="807" y="820" font-size="6.2" textLength="17.6" lengthAdjust="spacingAndGlyphs">K</text>
<text class="l" x="825.8" y="817" font-size="16.5" textLength="17.6" lengthAdjust="spacingAndGlyphs">L</text>
<text class="l" x="825.8" y="823" font-size="8.2" textLength="17.6" lengthAdjust="spacingAndGlyphs">F</text>
<text class="l" x="832.1" y="827" font-size="5.5" textLength="5" lengthAdjust="spacingAndGlyphs">I</text>
<text class="l" x="863.3" y="818.4" font-size="7.1" textLength="17.6" lengthAdjust="spacingAndGlyphs">N</text>
<text class="l" x="863.3" y="822.9" font-size="6.2" textLength="17.6" lengthAdjust="spacingAndGlyphs">S</text>
<text class="l" x="882.1" y="819.2" font-size="5.1" textLength="17.6" lengthAdjust="spacingAndGlyphs">N</text>
<text class="l" x="900.9" y="817.7" font-size="8.2" textLength="17.6" lengthAdjust="spacingAndGlyphs">R</text>
<text class="r" x="1107.3" y="831" font-size="163.3" textLength="17.6" lengthAdjust="spacingAndGlyphs">C</text>
<text class="r" x="1257.5" y="830" font-size="161.9" textLength="17.6" lengthAdjust="spacingAndGlyphs">C</text>
<text class="r" x="1426.4" y="831" font-size="163.3" textLength="17.6" lengthAdjust="spacingAndGlyphs">C</text>
<text class="l" x="1445.2" y="808" font-size="12.3" textLength="17.6" lengthAdjust="spacingAndGlyphs">M</text>
<text class="l" x="1445.2" y="817" font-size="12.3" textLength="17.6" lengthAdjust="spacingAndGlyphs">R</text>
<text class="l" x="1445.2" y="822" font-size="6.9" textLength="17.6" lengthAdjust="spacingAndGlyphs">L</text>
<text class="l" x="1464" y="818.5" font-size="47.1" textLength="17.6" lengthAdjust="spacingAndGlyphs">G</text>
<text class="l" x="1464" y="824.4" font-size="7.4" textLength="17.6" lengthAdjust="spacingAndGlyphs">N</text>
<text class="l" x="1482.7" y="818.5" font-size="47.1" textLength="17.6" lengthAdjust="spacingAndGlyphs">G</text>
<text class="l" x="1482.7" y="824.4" font-size="7.4" textLength="17.6" lengthAdjust="spacingAndGlyphs">K</text>
<text class="r" x="1501.5" y="828" font-size="159.2" textLength="17.6" lengthAdjust="spacingAndGlyphs">C</text>
<text class="l" x="1520.3" y="818.5" font-size="54.2" textLength="17.6" lengthAdjust="spacingAndGlyphs">P</text>
<text class="l" x="1520.3" y="821.4" font-size="4" textLength="17.6" lengthAdjust="spacingAndGlyphs">R</text>
<text class="l" x="1545.3" y="808" font-size="10.2" textLength="5" lengthAdjust="spacingAndGlyphs">I</text>
<text class="l" x="1539" y="817.7" font-size="13.3" textLength="17.6" lengthAdjust="spacingAndGlyphs">L</text>
<text class="l" x="1539" y="823" font-size="7.3" textLength="17.6" lengthAdjust="spacingAndGlyphs">F</text>
<text class="l" x="1539" y="826.6" font-size="4.9" textLength="17.6" lengthAdjust="spacingAndGlyphs">V</text>

<!-- ROW 8 -->
<text class="l" x="56.2" y="935" font-size="23.3" textLength="17.6" lengthAdjust="spacingAndGlyphs">F</text>
<text class="l" x="56.2" y="945" font-size="13.7" textLength="17.6" lengthAdjust="spacingAndGlyphs">H</text>
<text class="l" x="112.5" y="940" font-size="20.6" textLength="17.6" lengthAdjust="spacingAndGlyphs">P</text>
<text class="l" x="112.5" y="950" font-size="13.7" textLength="17.6" lengthAdjust="spacingAndGlyphs">D</text>
<text class="l" x="131.3" y="940" font-size="27.4" textLength="17.6" lengthAdjust="spacingAndGlyphs">E</text>
<text class="l" x="131.3" y="950" font-size="13.7" textLength="17.6" lengthAdjust="spacingAndGlyphs">L</text>
<text class="l" x="156.4" y="930" font-size="34.3" textLength="5" lengthAdjust="spacingAndGlyphs">I</text>
<text class="l" x="150.1" y="950" font-size="27.4" textLength="17.6" lengthAdjust="spacingAndGlyphs">L</text>
<text class="l" x="168.8" y="945" font-size="13.7" textLength="17.6" lengthAdjust="spacingAndGlyphs">V</text>
<text class="l" x="187.6" y="945" font-size="17.8" textLength="17.6" lengthAdjust="spacingAndGlyphs">L</text>
<text class="r" x="206.4" y="945" font-size="133" textLength="17.6" lengthAdjust="spacingAndGlyphs">C</text>
<text class="l" x="788.2" y="948" font-size="11" textLength="17.6" lengthAdjust="spacingAndGlyphs">G</text>
<text class="l" x="807" y="950" font-size="20.6" textLength="17.6" lengthAdjust="spacingAndGlyphs">K</text>
<text class="l" x="825.8" y="947" font-size="9.6" textLength="17.6" lengthAdjust="spacingAndGlyphs">K</text>
<text class="l" x="844.5" y="948" font-size="9.6" textLength="17.6" lengthAdjust="spacingAndGlyphs">G</text>
<text class="l" x="863.3" y="950" font-size="12.3" textLength="17.6" lengthAdjust="spacingAndGlyphs">E</text>
<text class="l" x="882.1" y="946" font-size="9.6" textLength="17.6" lengthAdjust="spacingAndGlyphs">R</text>

<text class="n" x="1555" y="1229.2" font-size="9.7" text-anchor="end">WebLogo 3.7.12</text>
</svg>
</body></html>
